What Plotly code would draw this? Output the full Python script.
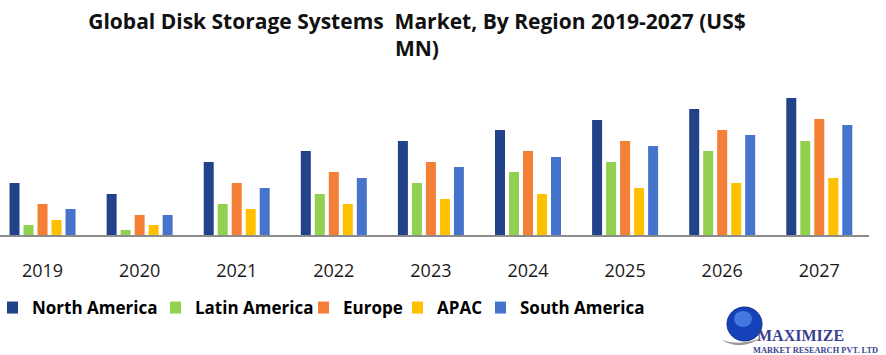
import plotly.graph_objects as go

years = ["2019", "2020", "2021", "2022", "2023", "2024", "2025", "2026", "2027"]
north_america = [52, 41, 73, 84, 94, 105, 115, 126, 137]
latin_america = [10, 5, 31, 41, 52, 63, 73, 84, 94]
europe = [31, 20, 52, 63, 73, 84, 94, 105, 116]
apac = [15, 10, 26, 31, 36, 41, 47, 52, 57]
south_america = [26, 20, 47, 57, 68, 78, 89, 100, 110]

series = [
    ("North America", north_america, "#22428A"),
    ("Latin America", latin_america, "#92D050"),
    ("Europe", europe, "#F47F36"),
    ("APAC", apac, "#FFC000"),
    ("South America", south_america, "#4674CC"),
]

W, H = 886, 355
L, R, T, B = 0, 17, 80, 120
PW, PH = W - L - R, H - T - B


def px_x(x):
    return (x - L) / PW


def px_y(y):
    return (H - B - y) / PH


legend_box_x = [7, 170, 318, 412, 495]
legend_names = ["legend", "legend2", "legend3", "legend4", "legend5"]

xpos = list(range(len(years)))
fig = go.Figure()
for i, (name, vals, col) in enumerate(series):
    fig.add_trace(go.Bar(x=xpos, y=vals, name=name, legend=legend_names[i],
                         marker=dict(color=col, line=dict(width=0))))

legend_font = dict(family="Open Sans", size=17, color="#000000", weight="bold")
layout_legends = {}
for i, ln in enumerate(legend_names):
    layout_legends[ln] = dict(
        orientation="h", x=px_x(legend_box_x[i]), xanchor="left",
        y=px_y(308), yanchor="middle", font=legend_font, itemwidth=30,
        indentation=-15, bgcolor="rgba(0,0,0,0)",
    )

fig.update_layout(
    width=W, height=H,
    margin=dict(l=L, r=R, t=T, b=B),
    paper_bgcolor="white", plot_bgcolor="white",
    barmode="group", bargap=0.279, bargroupgap=0.286,
    title=dict(
        text="Global Disk Storage Systems  Market, By Region 2019-2027 (US$<br>MN)",
        x=px_x(417), xanchor="center", xref="paper", yref="container", y=1 - 28.5 / H, yanchor="middle",
        font=dict(family="Open Sans", size=21, color="#111111", weight="bold"),
    ),
    xaxis=dict(
        range=[-0.438, 8.512], tickmode="array", tickvals=xpos, ticktext=years,
        showline=True, linecolor="#8C8C8C", linewidth=2,
        ticks="outside", ticklen=18, tickcolor="rgba(0,0,0,0)",
        tickfont=dict(family="Open Sans", size=18, color="#1A1A1A"),
        showgrid=False, zeroline=False, fixedrange=True,
    ),
    yaxis=dict(range=[0, PH], visible=False, showgrid=False, zeroline=False),
    showlegend=True,
    **layout_legends,
)

# logo
fig.add_shape(type="path", xref="paper", yref="paper",
              path=f"M {px_x(722)},{px_y(340)} Q {px_x(740)},{px_y(352)} {px_x(765)},{px_y(336)} "
                   f"Q {px_x(742)},{px_y(347)} {px_x(722)},{px_y(340)} Z",
              fillcolor="#9A9A9A", line=dict(width=0))
fig.add_shape(type="circle", xref="paper", yref="paper",
              x0=px_x(727), x1=px_x(762), y0=px_y(341), y1=px_y(307),
              fillcolor="#1542B8", line=dict(color="#0B2C86", width=1))
fig.add_shape(type="circle", xref="paper", yref="paper",
              x0=px_x(734), x1=px_x(752), y0=px_y(327), y1=px_y(311),
              fillcolor="#4E86E8", line=dict(width=0), opacity=0.8)
fig.add_annotation(x=px_x(756), y=px_y(335), xref="paper", yref="paper",
                   text="MAXIMIZE", showarrow=False, xanchor="left", yanchor="middle", borderpad=0,
                   font=dict(family="Liberation Serif", size=16, color="#3B3F8F", weight="bold"))
fig.add_annotation(x=px_x(752), y=px_y(350), xref="paper", yref="paper",
                   text="MARKET RESEARCH PVT. LTD", showarrow=False, xanchor="left", yanchor="middle", borderpad=0,
                   font=dict(family="Liberation Serif", size=8.4, color="#3B3F8F", weight="bold"))

fig.write_html("out.html", config={"displayModeBar": False},
               post_script="document.body.style.margin='0';")
